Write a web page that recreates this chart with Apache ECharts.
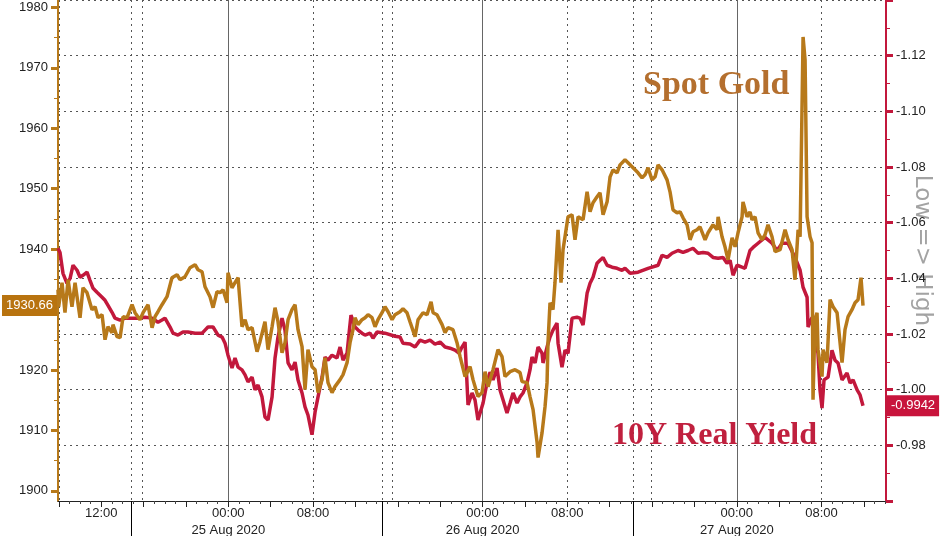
<!DOCTYPE html>
<html>
<head>
<meta charset="utf-8">
<script src="https://cdn.jsdelivr.net/npm/echarts@6/dist/echarts.min.js"></script>
<style>
    html, body { margin: 0; padding: 0; background: #fff; }
    #chart { width: 941px; height: 536px; }
</style>
</head>
<body>
<div id="chart"></div>
<script>
    // time is in hours counted from 24 Aug 2020 00:00
    var goldHours = [7.92, 7.98, 8.30, 8.58, 8.87, 9.24, 9.53, 10.00, 10.28, 10.66,
        11.13, 11.42, 11.70, 12.08, 12.36, 12.64, 13.02, 13.11, 13.49, 13.78,
        14.06, 14.44, 14.91, 15.19, 15.66, 15.95, 16.42, 16.80, 17.08, 17.36,
        17.74, 18.21, 18.68, 19.16, 19.44, 19.91, 20.38, 20.86, 21.14, 21.52,
        21.80, 22.27, 22.56, 22.93, 23.22, 23.50, 23.88, 23.97, 24.35, 24.63,
        24.92, 25.29, 25.58, 25.86, 26.24, 26.71, 26.99, 27.46, 27.75, 28.13,
        28.41, 28.69, 29.07, 29.35, 29.64, 30.01, 30.30, 30.58, 30.96, 31.24,
        31.52, 31.90, 32.19, 32.47, 32.85, 33.13, 33.41, 33.79, 34.07, 34.55,
        34.83, 35.21, 35.49, 35.77, 35.96, 36.25, 36.62, 36.91, 37.19, 37.57,
        37.85, 38.13, 38.51, 38.79, 39.08, 39.46, 39.74, 40.21, 40.49, 40.87,
        41.15, 41.63, 41.91, 42.38, 42.76, 43.14, 43.33, 43.70, 44.18, 44.46,
        44.74, 45.21, 45.59, 45.88, 46.35, 46.82, 47.10, 47.57, 47.95, 48.24,
        48.52, 48.99, 49.46, 49.84, 50.12, 50.60, 51.07, 51.54, 51.73, 52.20,
        52.48, 52.77, 53.15, 53.24, 53.62, 53.90, 54.09, 54.18, 54.37, 54.65,
        54.84, 55.13, 55.41, 55.60, 56.07, 56.45, 56.73, 57.02, 57.49, 57.87,
        58.15, 58.43, 58.81, 59.09, 59.38, 59.76, 60.04, 60.32, 60.70, 60.98,
        61.45, 61.74, 62.21, 62.68, 63.06, 63.34, 63.63, 64.00, 64.29, 64.57,
        64.95, 65.42, 65.70, 65.98, 66.36, 66.65, 66.93, 67.31, 67.59, 67.87,
        68.25, 68.53, 69.01, 69.29, 69.76, 70.14, 70.24, 70.61, 70.89, 71.18,
        71.56, 71.84, 72.12, 72.50, 72.59, 72.97, 73.25, 73.44, 73.73, 74.01,
        74.39, 74.67, 74.95, 75.33, 75.62, 76.09, 76.56, 76.84, 77.22, 77.50,
        77.79, 77.98, 78.26, 78.45, 78.64, 78.92, 79.11, 79.20, 79.39, 79.58,
        79.67, 80.05, 80.15, 80.52, 80.81, 81.09, 81.47, 81.94, 82.22, 82.51,
        82.88, 83.17, 83.45, 83.73, 83.92];
    var goldPrice = [1933.28, 1930.47, 1934.44, 1929.48, 1934.94, 1930.47, 1934.44, 1928.65, 1933.61, 1932.79,
        1929.98, 1930.47, 1928.65, 1929.15, 1925.01, 1927.16, 1926.17, 1927.50, 1925.51, 1925.35,
        1928.82, 1928.65, 1930.80, 1929.48, 1928.32, 1929.48, 1930.80, 1927.00, 1928.82, 1929.64,
        1930.80, 1932.13, 1935.27, 1935.76, 1934.94, 1935.43, 1936.92, 1937.42, 1936.59, 1936.26,
        1933.78, 1932.13, 1930.31, 1932.95, 1932.79, 1933.28, 1931.13, 1936.09, 1933.61, 1934.44,
        1935.27, 1927.16, 1928.32, 1926.67, 1927.00, 1923.03, 1924.68, 1927.99, 1923.36, 1927.16,
        1930.31, 1927.99, 1922.86, 1924.52, 1928.32, 1929.98, 1930.80, 1926.67, 1923.86, 1916.75,
        1923.36, 1920.55, 1920.05, 1916.25, 1918.40, 1922.04, 1917.90, 1916.25, 1917.24, 1918.40,
        1919.23, 1921.21, 1924.52, 1926.67, 1928.65, 1927.50, 1928.32, 1928.65, 1929.15, 1928.65,
        1927.16, 1928.32, 1929.48, 1930.47, 1929.64, 1928.32, 1929.15, 1929.64, 1930.14, 1929.48,
        1927.99, 1925.51, 1928.32, 1929.48, 1929.15, 1931.30, 1929.48, 1929.15, 1927.50, 1926.17,
        1927.00, 1926.67, 1924.52, 1922.20, 1918.90, 1920.55, 1918.40, 1915.59, 1916.25, 1919.72,
        1917.24, 1920.05, 1923.36, 1922.20, 1918.90, 1919.72, 1920.05, 1919.56, 1918.07, 1917.90,
        1915.59, 1913.44, 1907.98, 1905.50, 1909.63, 1913.93, 1917.90, 1924.52, 1931.13, 1929.98,
        1934.44, 1943.21, 1934.44, 1939.90, 1945.35, 1945.69, 1941.55, 1945.35, 1944.86, 1949.49,
        1946.18, 1947.67, 1948.66, 1949.32, 1945.69, 1947.83, 1951.97, 1953.13, 1952.63, 1953.95,
        1954.78, 1954.29, 1953.46, 1952.63, 1951.80, 1952.30, 1953.46, 1951.47, 1951.97, 1953.95,
        1953.13, 1951.47, 1949.49, 1946.51, 1946.02, 1946.18, 1945.19, 1944.03, 1941.55, 1942.87,
        1943.21, 1943.70, 1941.55, 1942.71, 1944.03, 1943.21, 1945.35, 1942.05, 1940.39, 1938.24,
        1941.88, 1940.39, 1942.71, 1945.35, 1947.83, 1945.35, 1946.18, 1944.86, 1945.35, 1942.71,
        1941.55, 1942.38, 1944.03, 1942.05, 1939.57, 1939.90, 1943.21, 1941.55, 1939.90, 1934.94,
        1943.21, 1942.05, 1975.12, 1971.32, 1945.35, 1942.05, 1941.06, 1915.09, 1928.32, 1929.48,
        1923.36, 1918.90, 1923.36, 1921.21, 1931.63, 1930.47, 1929.48, 1921.21, 1926.67, 1928.82,
        1929.98, 1931.13, 1931.63, 1935.27, 1930.66];

    var yieldHours = [7.92, 8.11, 8.39, 8.77, 9.06, 9.34, 9.72, 10.00, 10.28, 10.66,
        10.94, 11.23, 11.60, 12.08, 12.36, 12.64, 13.02, 13.30, 13.78, 14.25,
        14.91, 15.48, 16.14, 16.80, 17.08, 17.36, 17.74, 18.02, 18.50, 18.78,
        19.25, 19.72, 20.19, 20.86, 21.52, 21.80, 22.08, 22.56, 23.03, 23.41,
        23.69, 23.97, 24.35, 24.63, 24.92, 25.29, 25.58, 25.86, 26.24, 26.52,
        26.80, 27.18, 27.46, 27.75, 28.13, 28.41, 28.69, 29.07, 29.35, 29.64,
        30.01, 30.30, 30.58, 30.96, 31.24, 31.52, 31.90, 32.19, 32.47, 32.85,
        33.13, 33.41, 33.79, 34.26, 34.55, 34.83, 35.21, 35.40, 35.58, 35.96,
        36.25, 36.62, 36.91, 37.38, 37.66, 38.04, 38.79, 39.74, 40.21, 40.49,
        41.15, 41.63, 42.10, 42.57, 43.04, 43.51, 43.99, 44.46, 44.93, 45.40,
        45.78, 46.06, 46.35, 46.63, 47.01, 47.29, 47.57, 48.05, 48.42, 48.71,
        48.99, 49.37, 49.65, 49.94, 50.31, 50.60, 50.88, 51.26, 51.54, 51.82,
        52.20, 52.48, 52.67, 52.96, 53.24, 53.62, 53.71, 54.09, 54.37, 54.65,
        55.03, 55.13, 55.50, 55.79, 56.07, 56.45, 56.92, 57.20, 57.49, 57.87,
        58.15, 58.43, 58.81, 59.09, 59.38, 59.76, 60.23, 60.70, 61.17, 61.45,
        61.93, 62.68, 63.63, 64.57, 64.95, 65.42, 65.89, 66.46, 66.93, 67.40,
        67.87, 68.35, 68.82, 69.29, 69.76, 70.24, 70.71, 71.08, 71.37, 71.65,
        72.03, 72.50, 72.78, 73.25, 73.54, 74.01, 74.67, 75.33, 75.80, 76.28,
        76.84, 77.50, 77.98, 78.26, 78.64, 78.73, 79.11, 79.39, 79.67, 79.86,
        80.05, 80.24, 80.62, 80.99, 81.28, 81.56, 81.94, 82.41, 82.70, 82.98,
        83.36, 83.64, 83.92];
    var realYield = [-1.0508, -1.0493, -1.0418, -1.0382, -1.0400, -1.0447, -1.0429, -1.0404, -1.0411, -1.0422,
        -1.0393, -1.0364, -1.0350, -1.0332, -1.0321, -1.0303, -1.0278, -1.0257, -1.0250, -1.0257,
        -1.0257, -1.0257, -1.0260, -1.0257, -1.0250, -1.0242, -1.0250, -1.0257, -1.0225, -1.0203,
        -1.0196, -1.0207, -1.0207, -1.0203, -1.0203, -1.0214, -1.0225, -1.0225, -1.0196, -1.0189,
        -1.0167, -1.0124, -1.0078, -1.0114, -1.0081, -1.0071, -1.0053, -1.0028, -1.0045, -0.9999,
        -1.0017, -0.9974, -0.9902, -0.9891, -0.9974, -1.0114, -1.0189, -1.0257, -1.0214, -1.0096,
        -1.0071, -1.0099, -1.0035, -0.9988, -0.9938, -0.9909, -0.9838, -0.9920, -0.9974, -1.0045,
        -1.0117, -1.0106, -1.0124, -1.0114, -1.0153, -1.0106, -1.0131, -1.0203, -1.0268, -1.0225,
        -1.0214, -1.0203, -1.0196, -1.0203, -1.0185, -1.0207, -1.0203, -1.0192, -1.0189, -1.0167,
        -1.0164, -1.0153, -1.0178, -1.0171, -1.0178, -1.0164, -1.0171, -1.0153, -1.0149, -1.0142,
        -1.0131, -1.0153, -1.0171, -0.9945, -0.9988, -0.9963, -0.9891, -0.9952, -1.0024, -1.0063,
        -1.0035, -1.0078, -0.9999, -0.9963, -0.9916, -0.9952, -0.9988, -0.9952, -0.9974, -0.9988,
        -1.0024, -1.0071, -1.0117, -1.0096, -1.0153, -1.0131, -1.0096, -1.0153, -1.0189, -1.0214,
        -1.0239, -1.0167, -1.0081, -1.0142, -1.0131, -1.0257, -1.0260, -1.0257, -1.0232, -1.0346,
        -1.0382, -1.0404, -1.0454, -1.0465, -1.0475, -1.0447, -1.0440, -1.0436, -1.0429, -1.0436,
        -1.0418, -1.0422, -1.0436, -1.0447, -1.0483, -1.0475, -1.0490, -1.0500, -1.0493, -1.0500,
        -1.0508, -1.0490, -1.0493, -1.0490, -1.0475, -1.0472, -1.0475, -1.0454, -1.0465, -1.0411,
        -1.0447, -1.0440, -1.0436, -1.0500, -1.0511, -1.0526, -1.0547, -1.0526, -1.0500, -1.0526,
        -1.0526, -1.0475, -1.0429, -1.0368, -1.0332, -1.0225, -1.0260, -1.0189, -1.0131, -0.9999,
        -0.9934, -1.0035, -1.0045, -1.0142, -1.0106, -1.0096, -1.0035, -1.0060, -1.0024, -1.0035,
        -0.9999, -0.9981, -0.9942];

    // x axis labels and guide lines (hours)
    var labelHours = [12, 24, 32, 48, 56, 72, 80];
    var labelText = ['12:00', '00:00\n25 Aug 2020', '08:00', '00:00\n26 Aug 2020', '08:00', '00:00\n27 Aug 2020', '08:00'];
    var majorTickHours = [8, 12, 16, 20, 24, 28, 32, 36, 40, 44, 48, 52, 56, 60, 64, 68, 72, 76, 80, 84];
    var midnightHours = [24, 48, 72];
    var dottedHours = [8, 14.81, 15.85, 32, 38.51, 39.46, 56, 62.21, 63.91, 80];
    var sessionBreaks = [14.81, 38.51, 62.21];
    var goldLabels = [1900, 1910, 1920, 1930, 1940, 1950, 1960, 1970, 1980];
    var goldMinorTicks = [1905, 1915, 1925, 1935, 1945, 1955, 1965, 1975];

    var GOLD = '#b7791a';
    var RED = '#c2183c';
    var X_MIN = 7.92, X_MAX = 86.09;

    function zip(a, b) {
        var res = [];
        for (var i = 0; i < a.length; i++) {
            res.push([a[i], b[i]]);
        }
        return res;
    }

    var minorHours = [];
    for (var h = 8; h <= 86; h++) {
        if (h % 4 !== 0) minorHours.push(h);
    }

    var chart = echarts.init(document.getElementById('chart'));

    function helperX(values, extra) {
        var ax = {
            type: 'value', min: X_MIN, max: X_MAX, position: 'bottom',
            axisLine: { show: false },
            axisLabel: { show: false },
            axisTick: { show: false, customValues: values },
            splitLine: { show: false }
        };
        return Object.assign(ax, extra);
    }

    var option = {
        animation: false,
        backgroundColor: '#fff',
        textStyle: { fontFamily: 'Liberation Sans' },
        title: [{
            text: 'Spot Gold', left: 643, top: 68, padding: 0,
            textStyle: { fontFamily: 'Liberation Serif', fontWeight: 'bold', fontSize: 34, color: '#b46f2e' }
        }, {
            text: '10Y Real Yield', left: 612, top: 420, padding: 0,
            textStyle: { fontFamily: 'Liberation Serif', fontWeight: 'bold', fontSize: 32, color: '#c0203e' }
        }],
        grid: { left: 58, right: 55, top: 0, bottom: 35, containLabel: false, outerBoundsMode: 'none' },
        xAxis: [{
            type: 'value', min: X_MIN, max: X_MAX, position: 'bottom',
            axisLine: { show: true, lineStyle: { color: '#222', width: 1 } },
            axisTick: { show: true, customValues: majorTickHours, length: 6, lineStyle: { color: '#222' } },
            axisLabel: {
                customValues: labelHours, color: '#222', fontSize: 13, lineHeight: 17, margin: 4,
                formatter: function (v) {
                    var i = labelHours.indexOf(Math.round(v));
                    return i >= 0 ? labelText[i] : '';
                }
            },
            splitLine: { show: false }
        },
            helperX(minorHours, { axisTick: { show: true, customValues: minorHours, length: 3, lineStyle: { color: '#444' } } }),
            helperX(sessionBreaks, { axisTick: { show: true, customValues: sessionBreaks, length: 36, lineStyle: { color: '#000' } } }),
            helperX(midnightHours, { splitLine: { show: true, lineStyle: { color: '#666', width: 1 } } }),
            helperX(dottedHours, { splitLine: { show: true, lineStyle: { color: '#555', width: 1, type: [2, 4] } } })
        ],
        yAxis: [{
            type: 'value', position: 'left', min: 1898.31, max: 1981.24,
            axisLine: { show: true, lineStyle: { color: GOLD, width: 2 } },
            axisTick: { show: true, customValues: goldLabels, length: 7, lineStyle: { color: GOLD, width: 3 } },
            axisLabel: {
                customValues: goldLabels, color: '#222', fontSize: 13, margin: 10,
                formatter: function (v) { return String(Math.round(v)); }
            },
            splitLine: { show: false },
            axisPointer: {
                show: true, status: 'show', value: goldPrice[goldPrice.length - 1], triggerTooltip: false,
                lineStyle: { opacity: 0 },
                label: {
                    show: true, margin: 1, backgroundColor: '#b8730f', color: '#fff', fontSize: 13,
                    padding: [4, 4, 4, 4], borderRadius: 0,
                    formatter: function (p) { return (+p.value).toFixed(2); }
                }
            }
        }, {
            type: 'value', position: 'right', inverse: true, min: -1.14, max: -0.96, interval: 0.02,
            name: 'Low => High', nameLocation: 'middle', nameRotate: -90, nameGap: 24, nameMoveOverlap: false,
            nameTextStyle: { color: '#a3a3a3', fontSize: 23, fontFamily: 'DejaVu Sans' },
            axisLine: { show: true, lineStyle: { color: RED, width: 2 } },
            axisTick: { show: true, length: 7, lineStyle: { color: RED, width: 3 } },
            minorTick: { show: true, splitNumber: 2, length: 4, lineStyle: { color: RED, width: 1 } },
            axisLabel: {
                color: '#222', fontSize: 13, margin: 10, showMinLabel: false, showMaxLabel: false,
                formatter: function (v) { return v.toFixed(2); }
            },
            splitLine: { show: true, lineStyle: { color: '#555', width: 1, type: [2, 4] } },
            axisPointer: {
                show: true, status: 'show', value: realYield[realYield.length - 1], triggerTooltip: false,
                lineStyle: { opacity: 0 },
                label: {
                    show: true, margin: 1, backgroundColor: '#c8143c', color: '#fff', fontSize: 13,
                    padding: [4, 4, 4, 4], borderRadius: 0,
                    formatter: function (p) { return (+p.value).toFixed(4); }
                }
            }
        }, {
            type: 'value', position: 'left', min: 1898.31, max: 1981.24,
            axisLine: { show: false },
            axisTick: { show: true, customValues: goldMinorTicks, length: 4, lineStyle: { color: GOLD, width: 1 } },
            axisLabel: { show: false },
            splitLine: { show: false }
        }],
        series: [{
            name: '10Y Real Yield',
            type: 'line',
            xAxisIndex: 0,
            yAxisIndex: 1,
            showSymbol: false,
            data: zip(yieldHours, realYield),
            lineStyle: { color: RED, width: 3.5 },
            itemStyle: { color: RED },
            z: 3
        }, {
            name: 'Spot Gold',
            type: 'line',
            xAxisIndex: 0,
            yAxisIndex: 0,
            showSymbol: false,
            data: zip(goldHours, goldPrice),
            lineStyle: { color: GOLD, width: 3.5 },
            itemStyle: { color: GOLD },
            z: 4
        }]
    };
    chart.setOption(option);
</script>
</body>
</html>
